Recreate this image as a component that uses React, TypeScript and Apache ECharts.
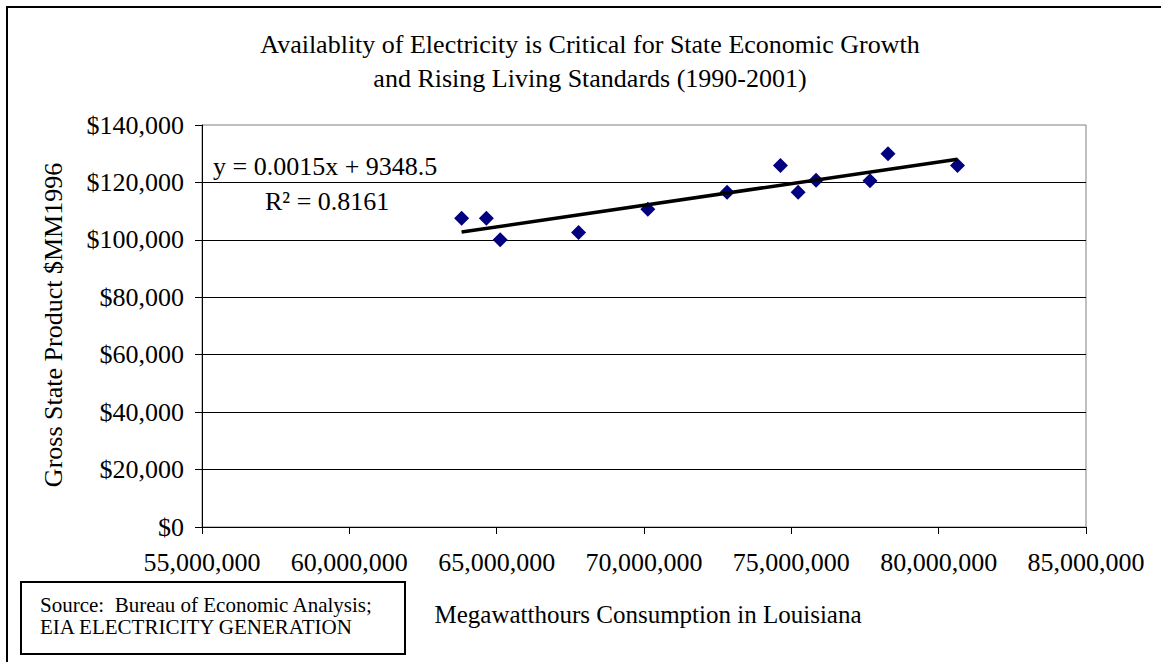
import React, { useEffect, useRef } from "react";
import * as echarts from "echarts";

const mwhConsumption = [
  63810000, 64650000, 65120000, 67780000, 70130000, 72820000,
  74630000, 75230000, 75840000, 77670000, 78280000, 80640000,
];
const grossStateProduct = [
  107500, 107500, 100000, 102600, 110700, 116600,
  125900, 116600, 120800, 120600, 130000, 125900,
];
const trendX = [63810000, 80640000];
const trendY = [102700, 128100];

const titleLines = [
  "Availablity of Electricity is Critical for State Economic Growth",
  "and Rising Living Standards (1990-2001)",
];
const yAxisTitle = "Gross State Product $MM1996";
const xAxisTitle = "Megawatthours Consumption in Louisiana";
const sourceLines = ["Source:  Bureau of Economic Analysis;", "EIA ELECTRICITY GENERATION"];
const equationText = "y = 0.0015x + 9348.5";
const r2Text = "R² = 0.8161";

const FONT = "'Liberation Serif', 'Times New Roman', serif";

export default function App() {
  const ref = useRef<HTMLDivElement>(null);

  useEffect(() => {
    if (!ref.current) return;
    const chart = echarts.init(ref.current, undefined, { renderer: "svg" });
    const fmtNum = (v: number) => Math.round(v).toLocaleString("en-US");

    chart.setOption({
      animation: false,
      backgroundColor: "#ffffff",
      grid: {
        left: 202,
        right: 75,
        top: 125,
        bottom: 135,
        show: true,
        borderColor: "#808080",
        borderWidth: 1,
        backgroundColor: "transparent",
      },
      xAxis: {
        type: "value",
        min: 55000000,
        max: 85000000,
        interval: 5000000,
        axisLine: { show: true, onZero: false, lineStyle: { color: "#000", width: 1 } },
        axisTick: { show: true, inside: false, length: 7, lineStyle: { color: "#000" } },
        splitLine: { show: false },
        axisLabel: {
          margin: 22,
          color: "#000",
          fontFamily: FONT,
          fontSize: 26,
          formatter: (v: number) => fmtNum(v),
        },
      },
      yAxis: {
        type: "value",
        min: 0,
        max: 140000,
        interval: 20000,
        axisLine: { show: true, onZero: false, lineStyle: { color: "#000", width: 1 } },
        axisTick: { show: true, inside: false, length: 7, lineStyle: { color: "#000" } },
        splitLine: { show: true, showMaxLine: false, lineStyle: { color: "#000", width: 1 } },
        axisLabel: {
          margin: 18,
          color: "#000",
          fontFamily: FONT,
          fontSize: 26,
          formatter: (v: number) => "$" + fmtNum(v),
        },
      },
      series: [
        {
          type: "scatter",
          data: mwhConsumption.map((x, i) => [x, grossStateProduct[i]]),
          symbol: "diamond",
          symbolSize: 15,
          itemStyle: { color: "#000080", opacity: 1 },
          z: 2,
        },
        {
          type: "line",
          data: trendX.map((x, i) => [x, trendY[i]]),
          symbol: "none",
          lineStyle: { color: "#000", width: 3.5 },
          z: 3,
        },
      ],
      graphic: [
        {
          type: "rect",
          shape: { x: 7, y: 7, width: 1200, height: 700 },
          style: { fill: "none", stroke: "#000", lineWidth: 2 },
          silent: true,
        },
        {
          type: "text",
          x: 590,
          y: 44,
          style: { text: titleLines[0], align: "center", verticalAlign: "middle", font: `26px ${FONT}`, fill: "#000" },
        },
        {
          type: "text",
          x: 590,
          y: 78,
          style: { text: titleLines[1], align: "center", verticalAlign: "middle", font: `26px ${FONT}`, fill: "#000" },
        },
        {
          type: "text",
          x: 53,
          y: 325,
          rotation: Math.PI / 2,
          style: { text: yAxisTitle, align: "center", verticalAlign: "middle", font: `26px ${FONT}`, fill: "#000" },
        },
        {
          type: "text",
          x: 648,
          y: 614,
          style: { text: xAxisTitle, align: "center", verticalAlign: "middle", font: `25px ${FONT}`, fill: "#000" },
        },
        {
          type: "text",
          x: 213,
          y: 166,
          z: 10,
          style: { text: equationText, align: "left", verticalAlign: "middle", font: `26px ${FONT}`, fill: "#000" },
        },
        {
          type: "text",
          x: 265,
          y: 201,
          z: 10,
          style: { text: r2Text, align: "left", verticalAlign: "middle", font: `26px ${FONT}`, fill: "#000" },
        },
        {
          type: "rect",
          shape: { x: 21, y: 582, width: 384, height: 72 },
          style: { fill: "#fff", stroke: "#000", lineWidth: 2 },
        },
        {
          type: "text",
          x: 40,
          y: 605,
          style: { text: sourceLines[0], align: "left", verticalAlign: "middle", font: `21px ${FONT}`, fill: "#000" },
        },
        {
          type: "text",
          x: 40,
          y: 627,
          style: { text: sourceLines[1], align: "left", verticalAlign: "middle", font: `21px ${FONT}`, fill: "#000" },
        },
      ],
    });

    return () => chart.dispose();
  }, []);

  return (
    <div
      ref={ref}
      style={{ position: "fixed", left: 0, top: 0, width: 1161, height: 662, background: "#fff" }}
    />
  );
}
